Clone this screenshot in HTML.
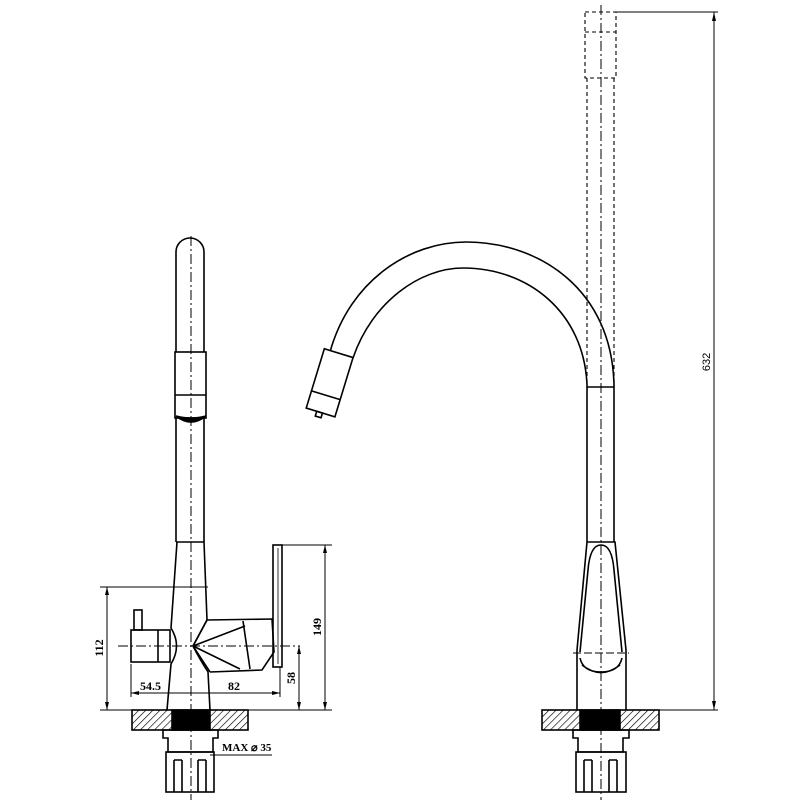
<!DOCTYPE html>
<html><head><style>body{margin:0;background:#fff}svg{display:block}</style></head><body>
<svg width="800" height="800" viewBox="0 0 800 800" xmlns="http://www.w3.org/2000/svg">
<defs>
<pattern id="h" width="5" height="5" patternUnits="userSpaceOnUse" patternTransform="rotate(45)"><line x1="0" y1="0" x2="0" y2="5" stroke="#000" stroke-width="1.3"/></pattern>
</defs>
<g fill="none" stroke="#000" stroke-width="1.6">
<!-- LEFT FAUCET -->
<path d="M176 542 V252 A14 14 0 0 1 204 252 V542"/>
<rect x="175" y="352" width="31" height="66" fill="#fff"/>
<line x1="175" y1="395" x2="206" y2="395"/>
<path d="M176 416 Q191 428 206 416 Q191 420 176 416Z" fill="#000"/>
<line x1="191" y1="236" x2="191" y2="800" stroke-dasharray="10,3,2,3" stroke-width="1"/>
<!-- body -->
<path d="M176 542 L204 542 L207 620"/>
<path d="M177 542 L171 628 Q182 646 171 664 L167 710"/>
<path d="M207 620 Q199 635 193 646 Q199 658 208 672 L210 710"/>
<path d="M207 620 L272 619 L274 652 L262 670 L210 672"/>
<path d="M193 646 L207 620 M193 646 L210 672 M193 646 L245 626 M193 646 L240 669"/>
<path d="M243 621 L250 669"/>
<rect x="273" y="545" width="9" height="122"/>
<line x1="278" y1="548" x2="278" y2="664" stroke-width="0.8"/>
<rect x="131" y="630" width="39" height="32"/>
<line x1="158" y1="630" x2="158" y2="662"/>
<rect x="134" y="610" width="8" height="20"/>
<line x1="118" y1="646" x2="300" y2="646" stroke-dasharray="10,3,2,3" stroke-width="1"/>
<!-- base -->
<rect x="132" y="710" width="116" height="20" fill="url(#h)"/>
<rect x="172" y="710" width="38" height="20" fill="#000"/>
<path d="M163 730 H218 V738 H213 V752 H168 V738 H163 Z"/>
<rect x="166" y="752" width="48" height="40"/>
<path d="M174 760 V792 M182 760 V792 M198 760 V792 M206 760 V792 M174 760 H182 M198 760 H206"/>
<!-- dims left -->
<g stroke-width="1">
<line x1="100" y1="587" x2="208" y2="587"/>
<line x1="100" y1="710" x2="332" y2="710"/>
<line x1="107" y1="587" x2="107" y2="710"/>
<line x1="282" y1="545" x2="332" y2="545"/>
<line x1="325" y1="545" x2="325" y2="710"/>
<line x1="299" y1="646" x2="299" y2="710"/>
<line x1="131" y1="664" x2="131" y2="697"/>
<line x1="280" y1="667" x2="280" y2="697"/>
<line x1="131" y1="693" x2="280" y2="693"/>
<line x1="210" y1="755" x2="272" y2="755"/>
</g>
<!-- RIGHT FAUCET -->
<path d="M330 352 C350 280 410 242 466 242 C540 242 612 290 614 385"/>
<path d="M353 358 C372 302 420 268 463 268 C528 268 584 312 587 385"/>
<g stroke-dasharray="4,3" stroke-width="1.1">
<rect x="585" y="12" width="31" height="66"/>
<line x1="585" y1="32" x2="616" y2="32"/>
<line x1="587" y1="78" x2="587" y2="387"/>
<line x1="614" y1="78" x2="614" y2="387"/>
</g>
<line x1="587" y1="387" x2="614" y2="387"/>
<line x1="587" y1="385" x2="587" y2="542"/>
<line x1="614" y1="385" x2="614" y2="542"/>
<line x1="601" y1="5" x2="601" y2="800" stroke-dasharray="10,3,2,3" stroke-width="1"/>
<g transform="rotate(17 330 385)">
<rect x="314" y="352" width="30" height="62" fill="#fff"/>
<line x1="314" y1="396" x2="344" y2="396"/>
<rect x="325" y="414" width="6" height="5"/>
</g>
<path d="M587 542 H615 L626 650 L626 710 M587 542 L577 650 L577 710"/>
<path d="M588 570 Q590 545 601 545 Q612 545 614 570 L622 652 M588 570 L580 652"/>
<line x1="573" y1="653" x2="629" y2="653" stroke-dasharray="8,3" stroke-width="1"/>
<path d="M580 658 Q583 672 601 672 Q619 672 622 658 M582 665 Q601 680 620 665"/>
<rect x="542" y="710" width="117" height="20" fill="url(#h)"/>
<rect x="580" y="710" width="40" height="20" fill="#000"/>
<path d="M573 730 H629 V738 H623 V752 H578 V738 H573 Z"/>
<rect x="576" y="752" width="50" height="40"/>
<path d="M584 760 V792 M592 760 V792 M609 760 V792 M617 760 V792 M584 760 H592 M609 760 H617"/>
<g stroke-width="1">
<line x1="616" y1="12" x2="718" y2="12"/>
<line x1="659" y1="710" x2="718" y2="710"/>
<line x1="714" y1="12" x2="714" y2="710"/>
</g>
</g>
<g fill="#000" stroke="none">
<path d="M714 12 l-2 9 h4 z M714 710 l-2 -9 h4 z"/>
<path d="M107 587 l-2 8 h4 z M107 710 l-2 -8 h4 z M325 545 l-2 8 h4z M325 710 l-2 -8 h4z M299 646 l-2 8 h4z M299 710 l-2 -8 h4z"/>
<path d="M131 693 l8 -2 v4z M280 693 l-8 -2 v4z"/>
</g>
<g font-family="Liberation Serif, serif" font-weight="bold" font-size="12" fill="#000">
<text x="140" y="690">54.5</text>
<text x="228" y="690">82</text>
<text x="222" y="751" font-size="11">MAX ⌀ 35</text>
<text transform="translate(103 648) rotate(-90)" text-anchor="middle">112</text>
<text transform="translate(321 627) rotate(-90)" text-anchor="middle">149</text>
<text transform="translate(295 678) rotate(-90)" text-anchor="middle">58</text>
<text transform="translate(710 362) rotate(-90)" text-anchor="middle" font-weight="normal" font-family="Liberation Sans, sans-serif" font-size="11">632</text>
</g>
</svg>
</body></html>
